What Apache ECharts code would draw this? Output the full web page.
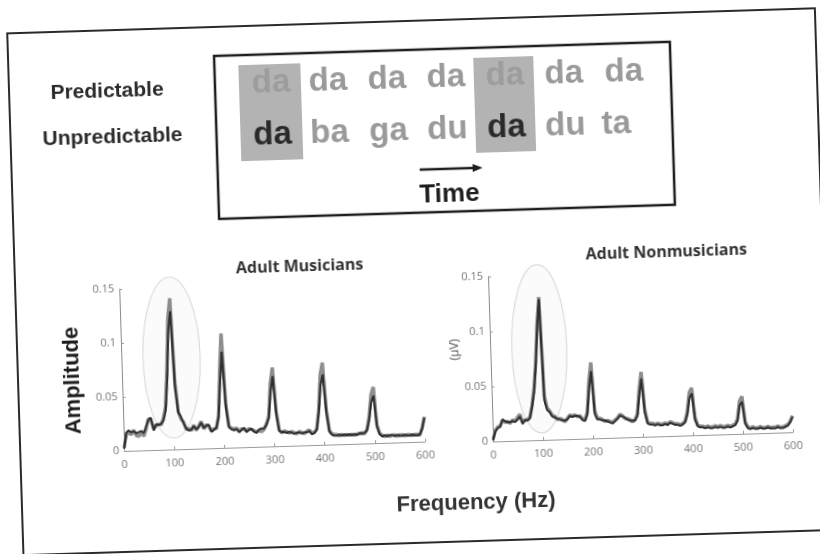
<!DOCTYPE html>
<html>
<head>
<meta charset="utf-8">
<title>Adult musicians vs nonmusicians spectra</title>
<script src="https://cdn.jsdelivr.net/npm/echarts@6/dist/echarts.min.js"></script>
<style>
  html, body { margin: 0; padding: 0; background: #fff; overflow: hidden; }
  /* the source is a slightly tilted photo of a printed figure */
  #chart { position: absolute; left: -20px; top: -20px; width: 860px; height: 594px; transform: rotate(-1.78deg); }
</style>
</head>
<body>
<div id="chart"></div>
<script>
// frequency grid of the spectra (Hz), 5 Hz steps
const freqs = []
for (let f = 0; f <= 600; f += 5) freqs.push(f)

const freqTicks = [0, 100, 200, 300, 400, 500, 600]
const ampTicks = [0, 0.05, 0.1, 0.15]

// syllable streams
const predictableRow = ['da', 'da', 'da', 'da', 'da', 'da', 'da']
const unpredictableRow = ['da', 'ba', 'ga', 'du', 'da', 'du', 'ta']

// adult musicians (amplitude, µV)
const musPredictable = [
  0.003, 0.015, 0.017, 0.015, 0.019, 0.014, 0.013, 0.017, 0.013, 0.020,
  0.029, 0.028, 0.020, 0.022, 0.024, 0.023, 0.029, 0.040, 0.075, 0.122,
  0.140, 0.062, 0.035, 0.028, 0.025, 0.018, 0.019, 0.017, 0.022, 0.017,
  0.021, 0.025, 0.018, 0.022, 0.020, 0.016, 0.018, 0.018, 0.030, 0.072,
  0.106, 0.042, 0.020, 0.018, 0.017, 0.018, 0.015, 0.017, 0.017, 0.015,
  0.017, 0.016, 0.015, 0.014, 0.015, 0.014, 0.016, 0.021, 0.028, 0.058,
  0.073, 0.033, 0.015, 0.012, 0.014, 0.013, 0.012, 0.013, 0.012, 0.011,
  0.013, 0.012, 0.011, 0.013, 0.014, 0.011, 0.012, 0.015, 0.033, 0.065,
  0.076, 0.033, 0.013, 0.010, 0.009, 0.009, 0.008, 0.009, 0.008, 0.009,
  0.008, 0.009, 0.008, 0.009, 0.009, 0.010, 0.009, 0.013, 0.025, 0.045,
  0.052, 0.017, 0.009, 0.007, 0.006, 0.007, 0.006, 0.007, 0.007, 0.006,
  0.007, 0.007, 0.006, 0.007, 0.007, 0.006, 0.007, 0.007, 0.006, 0.013,
  0.023
]
const musUnpredictable = [
  0.002, 0.017, 0.019, 0.017, 0.018, 0.016, 0.017, 0.018, 0.016, 0.022,
  0.028, 0.030, 0.018, 0.024, 0.023, 0.024, 0.027, 0.036, 0.065, 0.110,
  0.128, 0.058, 0.034, 0.030, 0.024, 0.019, 0.017, 0.018, 0.021, 0.018,
  0.020, 0.024, 0.019, 0.021, 0.022, 0.015, 0.017, 0.019, 0.028, 0.060,
  0.089, 0.038, 0.019, 0.017, 0.016, 0.017, 0.014, 0.016, 0.018, 0.014,
  0.016, 0.017, 0.014, 0.013, 0.016, 0.017, 0.017, 0.020, 0.026, 0.050,
  0.065, 0.030, 0.014, 0.013, 0.013, 0.012, 0.013, 0.012, 0.011, 0.012,
  0.012, 0.011, 0.012, 0.012, 0.013, 0.010, 0.011, 0.014, 0.030, 0.055,
  0.065, 0.030, 0.012, 0.009, 0.008, 0.008, 0.009, 0.008, 0.009, 0.008,
  0.009, 0.008, 0.009, 0.008, 0.010, 0.009, 0.010, 0.012, 0.022, 0.038,
  0.044, 0.015, 0.008, 0.006, 0.007, 0.006, 0.007, 0.007, 0.006, 0.007,
  0.006, 0.006, 0.007, 0.006, 0.006, 0.007, 0.006, 0.006, 0.007, 0.012,
  0.022
]

// adult nonmusicians (amplitude, µV)
const nonPredictable = [
  0.002, 0.010, 0.013, 0.014, 0.019, 0.017, 0.018, 0.016, 0.019, 0.018,
  0.021, 0.024, 0.017, 0.018, 0.019, 0.021, 0.032, 0.047, 0.072, 0.106,
  0.130, 0.040, 0.029, 0.026, 0.022, 0.021, 0.018, 0.019, 0.018, 0.016,
  0.019, 0.022, 0.021, 0.022, 0.020, 0.021, 0.018, 0.017, 0.024, 0.052,
  0.069, 0.025, 0.018, 0.018, 0.017, 0.015, 0.016, 0.015, 0.014, 0.016,
  0.018, 0.021, 0.020, 0.017, 0.017, 0.016, 0.014, 0.016, 0.021, 0.043,
  0.059, 0.025, 0.013, 0.012, 0.012, 0.011, 0.012, 0.011, 0.011, 0.012,
  0.011, 0.013, 0.012, 0.011, 0.011, 0.010, 0.011, 0.013, 0.022, 0.039,
  0.043, 0.016, 0.009, 0.008, 0.008, 0.007, 0.008, 0.007, 0.007, 0.008,
  0.007, 0.008, 0.007, 0.007, 0.008, 0.007, 0.008, 0.009, 0.014, 0.030,
  0.034, 0.011, 0.006, 0.005, 0.006, 0.005, 0.005, 0.006, 0.005, 0.005,
  0.006, 0.005, 0.005, 0.005, 0.006, 0.005, 0.005, 0.006, 0.007, 0.010,
  0.015
]
const nonUnpredictable = [
  0.001, 0.009, 0.012, 0.013, 0.020, 0.018, 0.017, 0.017, 0.018, 0.017,
  0.019, 0.022, 0.015, 0.019, 0.018, 0.020, 0.030, 0.044, 0.068, 0.102,
  0.128, 0.036, 0.027, 0.025, 0.021, 0.020, 0.019, 0.018, 0.017, 0.017,
  0.018, 0.021, 0.020, 0.021, 0.021, 0.020, 0.017, 0.016, 0.022, 0.045,
  0.061, 0.022, 0.017, 0.017, 0.016, 0.016, 0.015, 0.014, 0.013, 0.015,
  0.017, 0.020, 0.019, 0.018, 0.016, 0.015, 0.015, 0.015, 0.019, 0.038,
  0.053, 0.022, 0.012, 0.011, 0.011, 0.010, 0.011, 0.010, 0.010, 0.011,
  0.010, 0.012, 0.011, 0.010, 0.010, 0.009, 0.010, 0.012, 0.019, 0.034,
  0.038, 0.014, 0.008, 0.007, 0.007, 0.006, 0.007, 0.006, 0.006, 0.007,
  0.006, 0.007, 0.006, 0.006, 0.007, 0.006, 0.007, 0.008, 0.012, 0.026,
  0.029, 0.009, 0.005, 0.004, 0.005, 0.004, 0.004, 0.005, 0.004, 0.004,
  0.005, 0.004, 0.004, 0.004, 0.005, 0.004, 0.004, 0.005, 0.006, 0.009,
  0.014
]

const pairs = vals => freqs.map((f, i) => [f, vals[i]])

const axisFont = { fontFamily: 'Open Sans', fontSize: 11, color: '#777' }

function xAxisFor(gridIndex) {
  return {
    type: 'value', gridIndex: gridIndex, min: 0, max: 600, interval: 100,
    axisLine: { lineStyle: { color: '#9a9a9a', width: 1 } },
    axisTick: { inside: true, length: 3, lineStyle: { color: '#9a9a9a' } },
    axisLabel: Object.assign({ margin: 8, customValues: freqTicks }, axisFont),
    splitLine: { show: false }
  }
}
function yAxisFor(gridIndex) {
  return {
    type: 'value', gridIndex: gridIndex, min: 0, max: 0.15, interval: 0.05,
    axisLine: { show: true, lineStyle: { color: '#8a8a8a', width: 1 } },
    axisTick: { show: true, inside: true, length: 3, lineStyle: { color: '#9a9a9a' } },
    axisLabel: Object.assign({ margin: 5 }, axisFont),
    splitLine: { show: false }
  }
}

function lineSeries(name, idx, vals, color, width, z) {
  return {
    name: name, type: 'line', xAxisIndex: idx, yAxisIndex: idx,
    data: pairs(vals), showSymbol: false, smooth: false, z: z,
    lineStyle: { color: color, width: width }, itemStyle: { color: color }
  }
}

// text and boxes of the stimulus panel
const colX = [297, 354, 413, 472, 531, 590, 650]
const taX = 641
const sylFont = 'bold 33px "Liberation Sans", Arial, sans-serif'
const graphics = []
graphics.push({ type: 'rect', shape: { x: 35, y: 41, width: 808, height: 522 }, style: { fill: 'none', stroke: '#2a2a2a', lineWidth: 2 } })
graphics.push({ type: 'rect', shape: { x: 241, y: 70, width: 456, height: 163 }, style: { fill: 'none', stroke: '#1e1e1e', lineWidth: 2.5 } })
graphics.push({ type: 'rect', shape: { x: 265, y: 80, width: 62, height: 96 }, style: { fill: '#b3b3b3' } })
graphics.push({ type: 'rect', shape: { x: 500, y: 80, width: 60, height: 95 }, style: { fill: '#b3b3b3' } })
predictableRow.forEach((s, i) => {
  graphics.push({ type: 'text', x: colX[i], y: 99, style: { text: s, font: sylFont, fill: (i === 0 || i === 4) ? '#9d9d9d' : '#9a9a9a', textAlign: 'center', textVerticalAlign: 'middle' } })
})
unpredictableRow.forEach((s, i) => {
  graphics.push({ type: 'text', x: s === 'ta' ? taX : colX[i], y: 151, style: { text: s, font: sylFont, fill: (i === 0 || i === 4) ? '#2a2a2a' : '#9a9a9a', textAlign: 'center', textVerticalAlign: 'middle' } })
})
graphics.push({ type: 'text', x: 133, y: 102, style: { text: 'Predictable', font: 'bold 21px "Liberation Sans", Arial, sans-serif', fill: '#2b2b2b', textAlign: 'center', textVerticalAlign: 'middle' } })
graphics.push({ type: 'text', x: 137, y: 148, style: { text: 'Unpredictable', font: 'bold 21px "Liberation Sans", Arial, sans-serif', fill: '#2b2b2b', textAlign: 'center', textVerticalAlign: 'middle' } })
graphics.push({ type: 'line', shape: { x1: 443, y1: 190, x2: 498, y2: 190 }, style: { stroke: '#1e1e1e', lineWidth: 2.5 } })
graphics.push({ type: 'polygon', shape: { points: [[496, 186], [506, 190], [496, 194]] }, style: { fill: '#1e1e1e' } })
graphics.push({ type: 'text', x: 472, y: 216, style: { text: 'Time', font: 'bold 26px "Liberation Sans", Arial, sans-serif', fill: '#1e1e1e', textAlign: 'center', textVerticalAlign: 'middle' } })
// panel titles and axis names
graphics.push({ type: 'text', x: 320, y: 283, style: { text: 'Adult Musicians', font: 'bold 16px "Open Sans", sans-serif', fill: '#333', textAlign: 'center', textVerticalAlign: 'middle' } })
graphics.push({ type: 'text', x: 687, y: 280, style: { text: 'Adult Nonmusicians', font: 'bold 16px "Open Sans", sans-serif', fill: '#333', textAlign: 'center', textVerticalAlign: 'middle' } })
graphics.push({ type: 'text', x: 90, y: 390, rotation: Math.PI / 2, style: { text: 'Amplitude', font: 'bold 22px "Liberation Sans", Arial, sans-serif', fill: '#1e1e1e', textAlign: 'center', textVerticalAlign: 'middle' } })
graphics.push({ type: 'text', x: 473, y: 371, rotation: Math.PI / 2, style: { text: '(µV)', font: '12px "Open Sans", sans-serif', fill: '#555', textAlign: 'center', textVerticalAlign: 'middle' } })
graphics.push({ type: 'text', x: 489, y: 525, style: { text: 'Frequency (Hz)', font: 'bold 22px "Liberation Sans", Arial, sans-serif', fill: '#333', textAlign: 'center', textVerticalAlign: 'middle' } })

const chart = echarts.init(document.getElementById('chart'), null, { renderer: 'canvas' })
chart.setOption({
  backgroundColor: '#fff',
  animation: false,
  grid: [
    { left: 139, top: 300, width: 301, height: 162 },
    { left: 508, top: 299, width: 300, height: 165 }
  ],
  xAxis: [xAxisFor(0), xAxisFor(1)],
  yAxis: [yAxisFor(0), yAxisFor(1)],
  series: [
    lineSeries('Musicians predictable', 0, musPredictable, '#8e8e8e', 3.5, 2),
    lineSeries('Musicians unpredictable', 0, musUnpredictable, '#2e2e2e', 2, 3),
    lineSeries('Nonmusicians predictable', 1, nonPredictable, '#8e8e8e', 3.5, 2),
    lineSeries('Nonmusicians unpredictable', 1, nonUnpredictable, '#2e2e2e', 2, 3)
  ],
  graphic: { elements: graphics.map((g, i) => Object.assign({ id: 'g' + i }, g)) }
})

// faint ellipses around the 100 Hz response
function ellipseAt(id, gridIndex, cx, cy, halfF, halfA) {
  const c = chart.convertToPixel({ gridIndex: gridIndex }, [cx, cy])
  const e = chart.convertToPixel({ gridIndex: gridIndex }, [cx + halfF, cy + halfA])
  return { id: id, type: 'ellipse', z: 1, shape: { cx: c[0], cy: c[1], rx: e[0] - c[0], ry: c[1] - e[1] }, style: { fill: 'rgba(0,0,0,0.015)', stroke: '#dcdcdc', lineWidth: 1.2 } }
}
chart.setOption({
  graphic: { elements: [ellipseAt('ell0', 0, 100, 0.085, 57, 0.0745), ellipseAt('ell1', 1, 98, 0.083, 55, 0.0765)] }
})
</script>
</body>
</html>
